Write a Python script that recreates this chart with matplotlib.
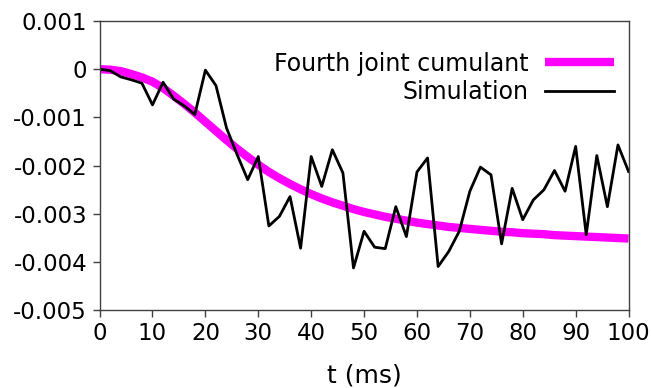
import matplotlib
matplotlib.use("Agg")
import matplotlib.pyplot as plt

t_sim = list(range(0, 101, 2))
sim = [0.0, -0.00003, -0.00016, -0.00022, -0.00029, -0.00074, -0.00027, -0.00062,
       -0.00076, -0.00094, -0.00002, -0.00034, -0.00122, -0.00177, -0.00229, -0.00181,
       -0.00325, -0.00305, -0.00264, -0.00371, -0.00181, -0.00243, -0.00167, -0.00215,
       -0.00412, -0.00336, -0.00369, -0.00372, -0.00285, -0.00347, -0.00213, -0.00184,
       -0.00409, -0.00378, -0.00336, -0.00253, -0.00203, -0.00219, -0.00362, -0.00247,
       -0.00312, -0.00271, -0.0025, -0.0021, -0.00253, -0.0016, -0.00343, -0.00179,
       -0.00285, -0.00157, -0.00212]

t_cum = list(range(0, 101, 2))
cum = [0.0, -0.00001, -0.00004, -0.0001, -0.00017, -0.00026, -0.00039, -0.00055,
       -0.00072, -0.0009, -0.00109, -0.00128, -0.00147, -0.00165, -0.00182, -0.00198,
       -0.00213, -0.00226, -0.00238, -0.00249, -0.00259, -0.00268, -0.00276, -0.00283,
       -0.0029, -0.00296, -0.00301, -0.00306, -0.0031, -0.00314, -0.00318, -0.00321,
       -0.00324, -0.00327, -0.00329, -0.00331, -0.00333, -0.00335, -0.00337, -0.00338,
       -0.0034, -0.00341, -0.00342, -0.00344, -0.00345, -0.00346, -0.00347, -0.00348,
       -0.00349, -0.0035, -0.00351]

xticks = list(range(0, 101, 10))
yticks = [-0.005, -0.004, -0.003, -0.002, -0.001, 0, 0.001]
ytick_labels = ["-0.005", "-0.004", "-0.003", "-0.002", "-0.001", "0", "0.001"]

fig = plt.figure(figsize=(6.51, 3.88), dpi=100)
ax = fig.add_axes([0.153, 0.2, 0.8125, 0.746])

ax.plot(t_cum, cum, color="#ff00ff", lw=6, label="Fourth joint cumulant", solid_capstyle="butt")
ax.plot(t_sim, sim, color="black", lw=2, label="Simulation")

ax.set_xlim(0, 100)
ax.set_ylim(-0.005, 0.001)
ax.set_xticks(xticks)
ax.set_yticks(yticks)
ax.set_yticklabels(ytick_labels)
ax.tick_params(labelsize=16.5, direction="out", length=5, width=1, color="#404040")
ax.tick_params(axis="x", pad=3)
ax.tick_params(axis="y", pad=4)
for s in ax.spines.values():
    s.set_color("#404040")
    s.set_linewidth(1)
ax.set_xlabel("t (ms)", fontsize=18, labelpad=14)

leg = ax.legend(loc="upper right", frameon=False, fontsize=17, markerfirst=False,
                handlelength=2.9, handletextpad=0.7, labelspacing=0.2,
                bbox_to_anchor=(0.990, 0.927), borderaxespad=0)
for txt in leg.get_texts():
    txt.set_ha("right")

fig.savefig("out.png", dpi=100)
